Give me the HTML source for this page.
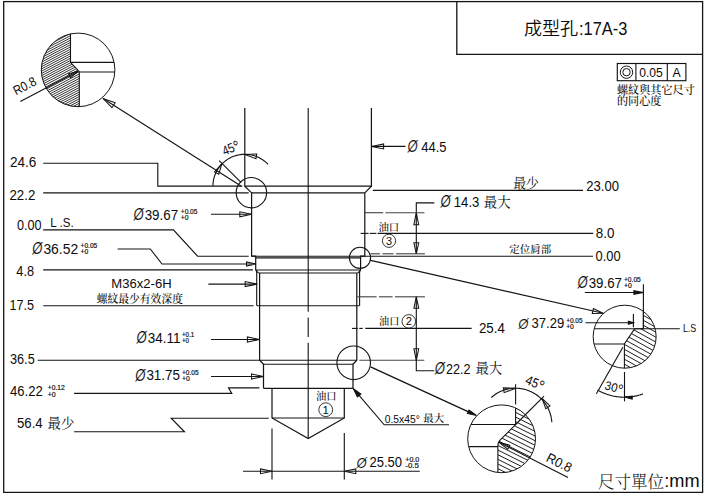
<!DOCTYPE html>
<html lang="zh-Hant"><head><meta charset="utf-8"><title>成型孔:17A-3</title>
<style>html,body{margin:0;padding:0;background:#fff;}body{width:706px;height:493px;overflow:hidden;}svg{display:block;}</style></head><body>
<svg width="706" height="493" viewBox="0 0 706 493" font-family="'Liberation Sans','Noto Sans CJK TC',sans-serif" fill="#0c0c0c" stroke="none">
<rect x="0" y="0" width="706" height="493" fill="#fff"/>
<defs>
<clipPath id="cA"><circle cx="78.1" cy="69.9" r="36.8"/></clipPath>
<clipPath id="cB"><circle cx="624.65" cy="336.7" r="31.5"/></clipPath>
<clipPath id="cC"><circle cx="501.6" cy="438.8" r="33.9"/></clipPath>
<clipPath id="hA"><polygon points="30,20 70.5,20 70.5,62.4 79.3,71.6 79.3,120 30,120"/></clipPath>
<clipPath id="hB"><polygon points="643.4,300 670,300 670,380 624.4,380 624.4,344 634,329.6 635.6,328.8 643.4,328.8"/></clipPath>
<clipPath id="hC"><polygon points="515.6,395 545,395 545,480 497.9,480 497.9,446 498.2,443 499.6,440.6 515.6,424.6"/></clipPath>
</defs>
<g fill="none" stroke="#141414" stroke-width="1.12" stroke-linecap="butt" stroke-linejoin="miter">
<rect x="3.7" y="1.6" width="698.9" height="490.8" stroke-width="1.3"/>
<polyline points="456.8,1.6 456.8,54.3 702.6,54.3" stroke-width="1.3"/>
<rect x="617.3" y="63.5" width="68.6" height="17.2" stroke-width="1.15"/>
<line x1="635.9" y1="63.5" x2="635.9" y2="80.7" stroke-width="1.1"/>
<line x1="667.3" y1="63.5" x2="667.3" y2="80.7" stroke-width="1.1"/>
<circle cx="626.5" cy="72.2" r="6.2" fill="none" stroke-width="1"/>
<circle cx="626.5" cy="72.2" r="3.7" fill="none" stroke-width="1"/>
<polyline points="244.8,108 244.8,186.2 251.6,192.9 251.6,256.2 255.7,256.2 255.7,269.6 256.6,271.6 258.6,272.8" stroke-width="1.22"/>
<line x1="256.7" y1="270.5" x2="256.7" y2="305.8"/>
<polyline points="259.6,273 259.6,360.3 263.5,364.2 263.5,388.3" stroke-width="1.22"/>
<polyline points="371.4,108 371.4,186.2 364.8,192.9 364.8,256.2 360.6,256.2 360.6,269.6 359.7,271.6 357.7,272.8" stroke-width="1.22"/>
<line x1="359.6" y1="270.5" x2="359.6" y2="305.8"/>
<polyline points="356.8,273 356.8,360.3 353,364.2 353,388.3" stroke-width="1.22"/>
<line x1="263.5" y1="388.3" x2="353" y2="388.3" stroke-width="1.22"/>
<polyline points="272,388.3 272,418 308.2,438.6 344.3,418 344.3,388.3" stroke-width="1.22"/>
<line x1="272" y1="418" x2="344.3" y2="418"/>
<line x1="244.8" y1="186.1" x2="371.4" y2="186.1"/>
<line x1="251.6" y1="192.9" x2="364.8" y2="192.9"/>
<line x1="251.6" y1="256.2" x2="364.8" y2="256.2"/>
<line x1="255.7" y1="257.9" x2="360.6" y2="257.9"/>
<line x1="255.7" y1="270" x2="360.6" y2="270"/>
<line x1="258.6" y1="273" x2="357.7" y2="273"/>
<line x1="256.9" y1="305.8" x2="359.6" y2="305.8"/>
<line x1="259.6" y1="360.3" x2="356.8" y2="360.3"/>
<line x1="263.5" y1="364.2" x2="353" y2="364.2"/>
<line x1="308.2" y1="108" x2="308.2" y2="311.8"/>
<line x1="308.2" y1="317.6" x2="308.2" y2="337"/>
<line x1="308.2" y1="342.7" x2="308.2" y2="438.6"/>
<polyline points="43.2,163.2 157.8,163.2 157.8,186.1 242.3,186.1"/>
<line x1="43.2" y1="192.9" x2="248.7" y2="192.9"/>
<polyline points="43.2,229.9 173.4,229.9 197.6,256.2 248.7,256.2"/>
<polyline points="117.6,249 150.3,249 162,264 256,264"/>
<polygon points="256,264 246.5,266.1 246.5,261.9" fill="none" stroke-width="1.05"/>
<line x1="43.2" y1="269.9" x2="252.9" y2="269.9"/>
<line x1="208.4" y1="284.1" x2="257.2" y2="284.1"/>
<polygon points="257.2,284.1 245.2,286.6 245.2,281.6" fill="none" stroke-width="1.05"/>
<line x1="43.2" y1="305.8" x2="253.6" y2="305.8"/>
<line x1="211" y1="339.5" x2="259.4" y2="339.5"/>
<polygon points="259.4,339.5 247.4,342 247.4,337" fill="none" stroke-width="1.05"/>
<line x1="37.7" y1="360.3" x2="259.6" y2="360.3"/>
<line x1="211" y1="376.5" x2="263.5" y2="376.5"/>
<polygon points="263.5,376.5 251.5,379 251.5,374" fill="none" stroke-width="1.05"/>
<polyline points="74.1,393.4 231.8,393.4 228.5,387.9 259.4,387.9"/>
<polyline points="74.1,431.8 184.5,431.8 171.2,418.2 268.7,418.2"/>
<line x1="211" y1="214.3" x2="251.6" y2="214.3"/>
<polygon points="251.6,214.3 239.8,216.8 239.8,211.8" fill="none" stroke-width="1.05"/>
<polyline points="212.9,186.2 212.96,184.3 213.13,182.41 213.41,180.53 213.8,178.67 214.3,176.84 214.92,175.04 215.63,173.28 216.45,171.57 217.37,169.91 218.39,168.3 219.5,166.76 220.71,165.29 221.99,163.9 223.36,162.58 224.81,161.34 226.32,160.2 227.9,159.14 229.54,158.19 231.24,157.33 232.98,156.57 234.76,155.92 236.58,155.38 238.43,154.94 240.31,154.62 242.19,154.41 244.09,154.31 245.99,154.32 247.89,154.45 249.77,154.69 251.64,155.04 253.48,155.5 255.29,156.07 257.07,156.75 258.8,157.53 260.48,158.42 262.1,159.4 263.67,160.48 265.17,161.65 266.59,162.9 267.94,164.24"/>
<line x1="241.2" y1="182.6" x2="219.2" y2="160.7"/>
<polygon points="221.9,163.6 218.76,174.21 214.56,171.88" fill="none" stroke-width="1.05"/>
<polygon points="245,154.4 256.74,153.93 255.95,158.67" fill="none" stroke-width="1.05"/>
<circle cx="251.4" cy="192.7" r="15.2" fill="none"/>
<line x1="241" y1="186" x2="103" y2="98.5"/>
<polygon points="103,98.5 115.16,102.66 111.95,107.73" fill="none" stroke-width="1.05"/>
<line x1="272" y1="428.5" x2="272" y2="479.5"/>
<line x1="344.3" y1="433" x2="344.3" y2="479.5"/>
<line x1="243" y1="471.3" x2="419.8" y2="471.3"/>
<polygon points="272,471.3 260.5,473.7 260.5,468.9" fill="none" stroke-width="1.05"/>
<polygon points="344.3,471.3 355.8,468.9 355.8,473.7" fill="none" stroke-width="1.05"/>
<line x1="371.6" y1="146.4" x2="405.5" y2="146.4"/>
<polygon points="371.6,146.4 383.6,143.9 383.6,148.9" fill="none" stroke-width="1.05"/>
<line x1="372.8" y1="190.4" x2="583" y2="190.4"/>
<polyline points="434.4,202.9 416.3,202.9 416.3,253.8"/>
<polygon points="416.3,212.7 418.7,224.7 413.9,224.7" fill="none" stroke-width="1.05"/>
<polygon points="416.3,253.8 413.9,242.8 418.7,242.8" fill="none" stroke-width="1.05"/>
<line x1="364.9" y1="212.7" x2="383.2" y2="212.7" stroke="#444"/>
<line x1="385.4" y1="212.7" x2="424.4" y2="212.7" stroke="#444"/>
<line x1="370.6" y1="253.8" x2="380" y2="253.8" stroke="#444"/>
<line x1="382.5" y1="253.8" x2="393.5" y2="253.8" stroke="#444"/>
<line x1="396" y1="253.8" x2="424.9" y2="253.8" stroke="#444"/>
<line x1="360.6" y1="233.4" x2="368.6" y2="233.4"/>
<line x1="369.8" y1="233.4" x2="376.4" y2="233.4"/>
<line x1="377.6" y1="233.4" x2="593.2" y2="233.4"/>
<line x1="364.9" y1="256.3" x2="593" y2="256.3"/>
<circle cx="360" cy="257.8" r="10.6" fill="none"/>
<line x1="370.6" y1="260.4" x2="603.1" y2="313.3"/>
<polygon points="603.1,313.3 592.28,313.51 593.44,308.44" fill="none" stroke-width="1.05"/>
<line x1="357.3" y1="296.8" x2="376.5" y2="296.8" stroke="#444"/>
<line x1="379" y1="296.8" x2="392.5" y2="296.8" stroke="#444"/>
<line x1="395" y1="296.8" x2="424.9" y2="296.8" stroke="#444"/>
<line x1="359.3" y1="360.3" x2="424.3" y2="360.3" stroke="#444"/>
<polyline points="416.3,296.8 416.3,370.8 434.3,370.8"/>
<polygon points="416.3,296.8 418.7,308.3 413.9,308.3" fill="none" stroke-width="1.05"/>
<polygon points="416.3,360.3 413.9,348.8 418.7,348.8" fill="none" stroke-width="1.05"/>
<line x1="352" y1="328.4" x2="357.8" y2="328.4"/>
<line x1="359.2" y1="328.4" x2="362.8" y2="328.4"/>
<line x1="365.3" y1="328.4" x2="471.6" y2="328.4"/>
<circle cx="353.7" cy="362.8" r="16.8" fill="none"/>
<line x1="370.6" y1="366.8" x2="474" y2="414.4" stroke-width="1.3"/>
<polygon points="476.4,415.5 467.43,413.47 469.02,410.01" fill="#141414" stroke-width="1.05"/>
<polyline points="353.3,388.6 384.2,424.8 449,424.8"/>
<polygon points="353.3,388.6 360.89,393.95 357.4,396.94" fill="#141414" stroke-width="1.05"/>
<circle cx="389" cy="240.8" r="6.6" fill="none" stroke-width="0.85"/>
<circle cx="408.8" cy="321.4" r="6.8" fill="none" stroke-width="0.85"/>
<circle cx="325.7" cy="409.7" r="6.9" fill="none" stroke-width="0.85"/>
<circle cx="78.1" cy="69.9" r="36.8" fill="none" stroke-width="1"/>
<g clip-path="url(#cA)">
<g clip-path="url(#hA)" stroke-width="0.8" stroke="#000">
<line x1="-3.08" y1="49.43" x2="80.46" y2="5.57"/>
<line x1="-2.15" y1="51.2" x2="81.39" y2="7.34"/>
<line x1="-1.22" y1="52.97" x2="82.32" y2="9.11"/>
<line x1="-0.29" y1="54.74" x2="83.25" y2="10.88"/>
<line x1="0.64" y1="56.51" x2="84.18" y2="12.65"/>
<line x1="1.57" y1="58.29" x2="85.11" y2="14.42"/>
<line x1="2.5" y1="60.06" x2="86.04" y2="16.2"/>
<line x1="3.42" y1="61.83" x2="86.97" y2="17.97"/>
<line x1="4.35" y1="63.6" x2="87.9" y2="19.74"/>
<line x1="5.28" y1="65.37" x2="88.83" y2="21.51"/>
<line x1="6.21" y1="67.14" x2="89.76" y2="23.28"/>
<line x1="7.14" y1="68.91" x2="90.68" y2="25.05"/>
<line x1="8.07" y1="70.68" x2="91.61" y2="26.82"/>
<line x1="9" y1="72.45" x2="92.54" y2="28.59"/>
<line x1="9.93" y1="74.22" x2="93.47" y2="30.36"/>
<line x1="10.86" y1="75.99" x2="94.4" y2="32.13"/>
<line x1="11.79" y1="77.76" x2="95.33" y2="33.9"/>
<line x1="12.72" y1="79.53" x2="96.26" y2="35.67"/>
<line x1="13.65" y1="81.31" x2="97.19" y2="37.45"/>
<line x1="14.58" y1="83.08" x2="98.12" y2="39.22"/>
<line x1="15.51" y1="84.85" x2="99.05" y2="40.99"/>
<line x1="16.44" y1="86.62" x2="99.98" y2="42.76"/>
<line x1="17.37" y1="88.39" x2="100.91" y2="44.53"/>
<line x1="18.3" y1="90.16" x2="101.84" y2="46.3"/>
<line x1="19.23" y1="91.93" x2="102.77" y2="48.07"/>
<line x1="20.16" y1="93.7" x2="103.7" y2="49.84"/>
<line x1="21.09" y1="95.47" x2="104.63" y2="51.61"/>
<line x1="22.02" y1="97.24" x2="105.56" y2="53.38"/>
<line x1="22.95" y1="99.01" x2="106.49" y2="55.15"/>
<line x1="23.88" y1="100.78" x2="107.42" y2="56.92"/>
<line x1="24.81" y1="102.55" x2="108.35" y2="58.69"/>
<line x1="25.74" y1="104.33" x2="109.28" y2="60.47"/>
<line x1="26.67" y1="106.1" x2="110.21" y2="62.24"/>
<line x1="27.6" y1="107.87" x2="111.14" y2="64.01"/>
<line x1="28.53" y1="109.64" x2="112.07" y2="65.78"/>
<line x1="29.46" y1="111.41" x2="113" y2="67.55"/>
<line x1="30.39" y1="113.18" x2="113.93" y2="69.32"/>
<line x1="31.32" y1="114.95" x2="114.86" y2="71.09"/>
<line x1="32.24" y1="116.72" x2="115.79" y2="72.86"/>
<line x1="33.17" y1="118.49" x2="116.72" y2="74.63"/>
<line x1="34.1" y1="120.26" x2="117.65" y2="76.4"/>
<line x1="35.03" y1="122.03" x2="118.58" y2="78.17"/>
<line x1="35.96" y1="123.8" x2="119.5" y2="79.94"/>
<line x1="36.89" y1="125.58" x2="120.43" y2="81.71"/>
<line x1="37.82" y1="127.35" x2="121.36" y2="83.49"/>
<line x1="38.75" y1="129.12" x2="122.29" y2="85.26"/>
<line x1="39.68" y1="130.89" x2="123.22" y2="87.03"/>
<line x1="40.61" y1="132.66" x2="124.15" y2="88.8"/>
</g>
<polyline points="70.5,30 70.5,62.4 79.3,71.6 79.3,110" stroke-width="1.1"/>
<line x1="70.5" y1="62.4" x2="116" y2="62.4"/>
<line x1="79.3" y1="72" x2="116" y2="72"/>
</g>
<line x1="20.3" y1="101.6" x2="77.9" y2="71.3"/>
<polygon points="77.9,71.3 70.51,77.66 68.47,73.77" fill="none" stroke-width="1.05"/>
<circle cx="624.65" cy="336.7" r="31.5" fill="none" stroke-width="1"/>
<g clip-path="url(#cB)">
<g clip-path="url(#hB)" stroke-width="0.95">
<line x1="623.4" y1="279.65" x2="698.11" y2="321.06"/>
<line x1="621.31" y1="283.43" x2="696.01" y2="324.84"/>
<line x1="619.22" y1="287.21" x2="693.92" y2="328.62"/>
<line x1="617.12" y1="290.99" x2="691.82" y2="332.4"/>
<line x1="615.03" y1="294.77" x2="689.73" y2="336.18"/>
<line x1="612.93" y1="298.55" x2="687.64" y2="339.96"/>
<line x1="610.84" y1="302.32" x2="685.54" y2="343.73"/>
<line x1="608.74" y1="306.1" x2="683.45" y2="347.51"/>
<line x1="606.65" y1="309.88" x2="681.35" y2="351.29"/>
<line x1="604.55" y1="313.66" x2="679.26" y2="355.07"/>
<line x1="602.46" y1="317.44" x2="677.16" y2="358.85"/>
<line x1="600.37" y1="321.22" x2="675.07" y2="362.63"/>
<line x1="598.27" y1="325" x2="672.98" y2="366.4"/>
<line x1="596.18" y1="328.77" x2="670.88" y2="370.18"/>
<line x1="594.08" y1="332.55" x2="668.79" y2="373.96"/>
<line x1="591.99" y1="336.33" x2="666.69" y2="377.74"/>
<line x1="589.89" y1="340.11" x2="664.6" y2="381.52"/>
<line x1="587.8" y1="343.89" x2="662.5" y2="385.3"/>
<line x1="585.71" y1="347.67" x2="660.41" y2="389.07"/>
<line x1="583.61" y1="351.44" x2="658.31" y2="392.85"/>
</g>
<polyline points="643.4,300 643.4,328.8 635.6,328.8 634,329.6 624.4,344 624.4,372" stroke-width="1.1"/>
<line x1="590" y1="328.8" x2="643.4" y2="328.8"/>
<line x1="590" y1="344" x2="624.4" y2="344"/>
</g>
<line x1="643.4" y1="284.2" x2="643.4" y2="328.8"/>
<line x1="584.8" y1="292.5" x2="643.4" y2="292.5"/>
<polygon points="643.4,292.5 633.9,294.3 633.9,290.7" fill="#141414" stroke-width="1.05"/>
<line x1="585.5" y1="322.8" x2="633.4" y2="322.8"/>
<polygon points="633.4,322.8 628.4,324.3 628.4,321.3" fill="#141414" stroke-width="1.05"/>
<line x1="633.4" y1="314" x2="633.4" y2="327.2"/>
<line x1="643.4" y1="328.8" x2="679.8" y2="328.8"/>
<line x1="622.9" y1="347.3" x2="596.4" y2="393.8"/>
<line x1="624.5" y1="372" x2="624.5" y2="401.4"/>
<polyline points="597.6,390.02 598.63,390.6 599.66,391.15 600.71,391.68 601.77,392.19 602.84,392.67 603.93,393.14 605.02,393.57 606.12,393.99 607.23,394.38 608.35,394.74 609.48,395.08 610.61,395.4 611.75,395.69 612.89,395.95 614.05,396.19 615.2,396.41 616.36,396.59 617.53,396.76 618.7,396.9 619.87,397.01 621.04,397.09 622.22,397.16 623.39,397.19 624.57,397.2 625.74,397.18 626.92,397.14 628.09,397.07 629.27,396.98 630.44,396.86 631.6,396.71 632.77,396.54 633.93,396.35 635.08,396.12 636.23,395.88 637.38,395.61 638.52,395.31 639.65,394.99 640.77,394.64 641.89,394.27 643,393.87"/>
<polygon points="624.5,397.1 632.39,396.15 632.18,399.14" fill="#141414" stroke-width="1.05"/>
<circle cx="501.6" cy="438.8" r="33.9" fill="none" stroke-width="1"/>
<g clip-path="url(#cC)">
<g clip-path="url(#hC)" stroke-width="0.95">
<line x1="499.02" y1="371.61" x2="581.64" y2="412.8"/>
<line x1="497.16" y1="375.33" x2="579.79" y2="416.53"/>
<line x1="495.31" y1="379.05" x2="577.93" y2="420.25"/>
<line x1="493.45" y1="382.78" x2="576.08" y2="423.97"/>
<line x1="491.6" y1="386.5" x2="574.22" y2="427.7"/>
<line x1="489.74" y1="390.22" x2="572.36" y2="431.42"/>
<line x1="487.88" y1="393.95" x2="570.51" y2="435.14"/>
<line x1="486.03" y1="397.67" x2="568.65" y2="438.86"/>
<line x1="484.17" y1="401.39" x2="566.79" y2="442.59"/>
<line x1="482.31" y1="405.12" x2="564.94" y2="446.31"/>
<line x1="480.46" y1="408.84" x2="563.08" y2="450.03"/>
<line x1="478.6" y1="412.56" x2="561.23" y2="453.76"/>
<line x1="476.75" y1="416.28" x2="559.37" y2="457.48"/>
<line x1="474.89" y1="420.01" x2="557.51" y2="461.2"/>
<line x1="473.03" y1="423.73" x2="555.66" y2="464.92"/>
<line x1="471.18" y1="427.45" x2="553.8" y2="468.65"/>
<line x1="469.32" y1="431.18" x2="551.94" y2="472.37"/>
<line x1="467.47" y1="434.9" x2="550.09" y2="476.09"/>
<line x1="465.61" y1="438.62" x2="548.23" y2="479.82"/>
<line x1="463.75" y1="442.34" x2="546.38" y2="483.54"/>
<line x1="461.9" y1="446.07" x2="544.52" y2="487.26"/>
<line x1="460.04" y1="449.79" x2="542.66" y2="490.98"/>
<line x1="458.18" y1="453.51" x2="540.81" y2="494.71"/>
<line x1="456.33" y1="457.24" x2="538.95" y2="498.43"/>
</g>
<polyline points="515.6,400 515.6,424.6 499.6,440.6 498.2,443 497.9,446 497.9,476" stroke-width="1.1"/>
<line x1="465" y1="424.5" x2="515.6" y2="424.5"/>
<line x1="465" y1="446.6" x2="497.9" y2="446.6"/>
</g>
<line x1="515.6" y1="384.3" x2="515.6" y2="404.4"/>
<line x1="515.6" y1="424.5" x2="544" y2="396.2"/>
<polyline points="491.31,397.52 492.86,396.21 494.48,394.98 496.17,393.84 497.92,392.8 499.72,391.86 501.58,391.02 503.48,390.28 505.41,389.66 507.38,389.14 509.37,388.74 511.39,388.45 513.42,388.27 515.45,388.2 517.48,388.25 519.51,388.41 521.53,388.69 523.53,389.08 525.5,389.58 527.44,390.19 529.34,390.9 531.21,391.73 533.02,392.65 534.78,393.68 536.47,394.8 538.1,396.02 539.66,397.32 541.15,398.71 542.55,400.19 543.88,401.74 545.11,403.36 546.24,405.04 547.29,406.79 548.23,408.59 549.07,410.45 549.8,412.35 550.43,414.28 550.95,416.25 551.36,418.24 551.65,420.26 551.83,422.28"/>
<polygon points="515.6,388.3 504.16,392.65 503.37,387.91" fill="none" stroke-width="1.05"/>
<polygon points="542.1,398.4 549.97,405.93 545.78,408.65" fill="none" stroke-width="1.05"/>
<line x1="499" y1="442.3" x2="568" y2="477.4"/>
<polygon points="499,442.3 509.8,445.33 507.8,449.25" fill="none" stroke-width="1.05"/>
</g>
<text x="523.9" y="35.2" font-size="18" font-family="'Liberation Sans','Noto Sans CJK TC','Noto Sans CJK SC',sans-serif" textLength="54.2" lengthAdjust="spacingAndGlyphs" font-weight="350" stroke="none">成型孔</text>
<text x="579" y="34.8" font-size="18" textLength="48.4" lengthAdjust="spacingAndGlyphs">:17A-3</text>
<text x="639.2" y="76.7" font-size="12.3" textLength="23.6" lengthAdjust="spacingAndGlyphs">0.05</text>
<text x="672.5" y="76.7" font-size="12.3" textLength="8.2" lengthAdjust="spacingAndGlyphs">A</text>
<text x="617" y="94" font-size="11.1" font-family="'Liberation Serif','Noto Serif CJK SC','Noto Serif CJK TC',serif" textLength="77.8" lengthAdjust="spacingAndGlyphs" font-weight="500">螺紋與其它尺寸</text>
<text x="617" y="104.6" font-size="11.1" font-family="'Liberation Serif','Noto Serif CJK SC','Noto Serif CJK TC',serif" textLength="44.4" lengthAdjust="spacingAndGlyphs" font-weight="500">的同心度</text>
<text x="10" y="167" font-size="14" textLength="26.4" lengthAdjust="spacingAndGlyphs">24.6</text>
<text x="9.5" y="199.6" font-size="14" textLength="25.8" lengthAdjust="spacingAndGlyphs">22.2</text>
<text x="17" y="229.8" font-size="14" textLength="24.6" lengthAdjust="spacingAndGlyphs">0.00</text>
<text x="50.3" y="226.6" font-size="12.8" textLength="23.3" lengthAdjust="spacingAndGlyphs">L .S.</text>
<text x="32.3" y="254.2" font-size="15.96" font-style="italic" textLength="10.2" lengthAdjust="spacingAndGlyphs" stroke="#fff" stroke-width="0.12">Ø</text>
<text x="43.4" y="253.5" font-size="14" textLength="34.8" lengthAdjust="spacingAndGlyphs">36.52</text>
<text x="80.6" y="247.55" font-size="6.61" textLength="16.6" lengthAdjust="spacingAndGlyphs" stroke="#0c0c0c" stroke-width="0.18">+0.05</text>
<text x="80.6" y="253.75" font-size="6.61" textLength="7.7" lengthAdjust="spacingAndGlyphs" stroke="#0c0c0c" stroke-width="0.18">+0</text>
<text x="16.3" y="275.6" font-size="14" textLength="17.7" lengthAdjust="spacingAndGlyphs">4.8</text>
<text x="111.3" y="288" font-size="12" textLength="60.3" lengthAdjust="spacingAndGlyphs">M36x2-6H</text>
<text x="96.7" y="302.6" font-size="10.8" font-family="'Liberation Serif','Noto Serif CJK SC','Noto Serif CJK TC',serif" textLength="86.3" lengthAdjust="spacingAndGlyphs" font-weight="500">螺紋最少有效深度</text>
<text x="9.5" y="310" font-size="14" textLength="24.5" lengthAdjust="spacingAndGlyphs">17.5</text>
<text x="136.6" y="343.4" font-size="15.96" font-style="italic" textLength="10.2" lengthAdjust="spacingAndGlyphs" stroke="#fff" stroke-width="0.12">Ø</text>
<text x="147.7" y="342.7" font-size="14" textLength="32.8" lengthAdjust="spacingAndGlyphs">34.11</text>
<text x="182" y="337.25" font-size="6.61" textLength="12.2" lengthAdjust="spacingAndGlyphs" stroke="#0c0c0c" stroke-width="0.18">+0.1</text>
<text x="182" y="343.45" font-size="6.61" textLength="7.08" lengthAdjust="spacingAndGlyphs" stroke="#0c0c0c" stroke-width="0.18">+0</text>
<text x="10" y="364" font-size="14" textLength="24.7" lengthAdjust="spacingAndGlyphs">36.5</text>
<text x="135.3" y="381" font-size="15.96" font-style="italic" textLength="10.2" lengthAdjust="spacingAndGlyphs" stroke="#fff" stroke-width="0.12">Ø</text>
<text x="146.4" y="380.3" font-size="14" textLength="33.6" lengthAdjust="spacingAndGlyphs">31.75</text>
<text x="182" y="374.75" font-size="6.61" textLength="16.6" lengthAdjust="spacingAndGlyphs" stroke="#0c0c0c" stroke-width="0.18">+0.05</text>
<text x="182" y="381.05" font-size="6.61" textLength="7.7" lengthAdjust="spacingAndGlyphs" stroke="#0c0c0c" stroke-width="0.18">+0</text>
<text x="10" y="396.1" font-size="14" textLength="32.7" lengthAdjust="spacingAndGlyphs">46.22</text>
<text x="47.7" y="390.45" font-size="6.38" textLength="17.1" lengthAdjust="spacingAndGlyphs" stroke="#0c0c0c" stroke-width="0.18">+0.12</text>
<text x="47.7" y="396.65" font-size="6.38" textLength="7.93" lengthAdjust="spacingAndGlyphs" stroke="#0c0c0c" stroke-width="0.18">+0</text>
<text x="17" y="428" font-size="14" textLength="25.7" lengthAdjust="spacingAndGlyphs">56.4</text>
<text x="47.5" y="427.8" font-size="13.5" font-family="'Liberation Serif','Noto Serif CJK SC','Noto Serif CJK TC',serif" textLength="26.8" lengthAdjust="spacingAndGlyphs" font-weight="400">最少</text>
<text x="133.6" y="220.4" font-size="15.96" font-style="italic" textLength="10.2" lengthAdjust="spacingAndGlyphs" stroke="#fff" stroke-width="0.12">Ø</text>
<text x="144.7" y="219.7" font-size="14" textLength="33.4" lengthAdjust="spacingAndGlyphs">39.67</text>
<text x="180.8" y="213.75" font-size="6.61" textLength="16.6" lengthAdjust="spacingAndGlyphs" stroke="#0c0c0c" stroke-width="0.18">+0.05</text>
<text x="180.8" y="219.95" font-size="6.61" textLength="7.7" lengthAdjust="spacingAndGlyphs" stroke="#0c0c0c" stroke-width="0.18">+0</text>
<text transform="translate(230.9 147.9) rotate(-22.5)" x="0" y="4.73" font-size="13.2" text-anchor="middle" textLength="18" lengthAdjust="spacingAndGlyphs">45<tspan font-size="1.3em" dy="0.13em">°</tspan></text>
<text x="15.9" y="95.4" font-size="13.2" textLength="24" lengthAdjust="spacingAndGlyphs" transform="rotate(-27 15.9 95.4)">R0.8</text>
<text x="407.4" y="152.1" font-size="15.73" font-style="italic" textLength="10.2" lengthAdjust="spacingAndGlyphs" stroke="#fff" stroke-width="0.12">Ø</text>
<text x="421.3" y="152.1" font-size="13.8" textLength="25.2" lengthAdjust="spacingAndGlyphs">44.5</text>
<text x="513.2" y="188.4" font-size="13.3" font-family="'Liberation Serif','Noto Serif CJK SC','Noto Serif CJK TC',serif" textLength="25.8" lengthAdjust="spacingAndGlyphs" font-weight="400">最少</text>
<text x="586.3" y="190.8" font-size="14" textLength="32.7" lengthAdjust="spacingAndGlyphs">23.00</text>
<text x="440.5" y="206.7" font-size="15.73" font-style="italic" textLength="10.2" lengthAdjust="spacingAndGlyphs" stroke="#fff" stroke-width="0.12">Ø</text>
<text x="453.8" y="206.8" font-size="13.8" textLength="25.6" lengthAdjust="spacingAndGlyphs">14.3</text>
<text x="483.8" y="207.2" font-size="13.7" font-family="'Liberation Serif','Noto Serif CJK SC','Noto Serif CJK TC',serif" textLength="26.8" lengthAdjust="spacingAndGlyphs" font-weight="400">最大</text>
<text x="378.4" y="230.9" font-size="10.4" font-family="'Liberation Serif','Noto Serif CJK SC','Noto Serif CJK TC',serif" textLength="20.8" lengthAdjust="spacingAndGlyphs" font-weight="500">油口</text>
<text x="389" y="244.7" font-size="10.9" text-anchor="middle">3</text>
<text x="595.8" y="238.1" font-size="14" textLength="18.6" lengthAdjust="spacingAndGlyphs">8.0</text>
<text x="509.2" y="252.7" font-size="10.7" font-family="'Liberation Serif','Noto Serif CJK SC','Noto Serif CJK TC',serif" textLength="42" lengthAdjust="spacingAndGlyphs" font-weight="500">定位肩部</text>
<text x="595.6" y="260.6" font-size="14" textLength="25.1" lengthAdjust="spacingAndGlyphs">0.00</text>
<text x="379.1" y="325.2" font-size="10.2" font-family="'Liberation Serif','Noto Serif CJK SC','Noto Serif CJK TC',serif" textLength="20.2" lengthAdjust="spacingAndGlyphs" font-weight="500">油口</text>
<text x="408.8" y="325.4" font-size="11.2" text-anchor="middle">2</text>
<text x="478.9" y="332.7" font-size="14" textLength="25.9" lengthAdjust="spacingAndGlyphs">25.4</text>
<text x="434.8" y="374.2" font-size="15.96" font-style="italic" textLength="10.2" lengthAdjust="spacingAndGlyphs" stroke="#fff" stroke-width="0.12">Ø</text>
<text x="445.9" y="373.5" font-size="14" textLength="24.6" lengthAdjust="spacingAndGlyphs">22.2</text>
<text x="475.4" y="373.4" font-size="13.7" font-family="'Liberation Serif','Noto Serif CJK SC','Noto Serif CJK TC',serif" textLength="26.8" lengthAdjust="spacingAndGlyphs" font-weight="400">最大</text>
<text x="316" y="400.1" font-size="10.3" font-family="'Liberation Serif','Noto Serif CJK SC','Noto Serif CJK TC',serif" textLength="20.5" lengthAdjust="spacingAndGlyphs" font-weight="500">油口</text>
<text x="325.7" y="413.8" font-size="11.4" text-anchor="middle">1</text>
<text x="384.7" y="422.5" font-size="10.4" textLength="35.1" lengthAdjust="spacingAndGlyphs">0.5x45°</text>
<text x="423.2" y="422.4" font-size="10.6" font-family="'Liberation Serif','Noto Serif CJK SC','Noto Serif CJK TC',serif" textLength="21" lengthAdjust="spacingAndGlyphs" font-weight="500">最大</text>
<text x="356.4" y="467.7" font-size="15.39" font-style="italic" textLength="10.2" lengthAdjust="spacingAndGlyphs" stroke="#fff" stroke-width="0.12">Ø</text>
<text x="369.4" y="467" font-size="14" textLength="32.6" lengthAdjust="spacingAndGlyphs">25.50</text>
<text x="405.3" y="462.45" font-size="7.19" textLength="14" lengthAdjust="spacingAndGlyphs" stroke="#0c0c0c" stroke-width="0.18">+0.0</text>
<text x="405.3" y="468.05" font-size="7.19" textLength="13.6" lengthAdjust="spacingAndGlyphs" stroke="#0c0c0c" stroke-width="0.18">-0.5</text>
<text x="577.6" y="288.2" font-size="15.96" font-style="italic" textLength="10.2" lengthAdjust="spacingAndGlyphs" stroke="#fff" stroke-width="0.12">Ø</text>
<text x="588.7" y="287.5" font-size="14" textLength="33.3" lengthAdjust="spacingAndGlyphs">39.67</text>
<text x="624" y="281.95" font-size="6.61" textLength="16.8" lengthAdjust="spacingAndGlyphs" stroke="#0c0c0c" stroke-width="0.18">+0.05</text>
<text x="624" y="287.75" font-size="6.61" textLength="7.8" lengthAdjust="spacingAndGlyphs" stroke="#0c0c0c" stroke-width="0.18">+0</text>
<text x="518.2" y="329.1" font-size="15.39" font-style="italic" textLength="10.2" lengthAdjust="spacingAndGlyphs" stroke="#fff" stroke-width="0.12">Ø</text>
<text x="531.5" y="328.4" font-size="14" textLength="32.7" lengthAdjust="spacingAndGlyphs">37.29</text>
<text x="566.2" y="322.85" font-size="6.61" textLength="16.4" lengthAdjust="spacingAndGlyphs" stroke="#0c0c0c" stroke-width="0.18">+0.05</text>
<text x="566.2" y="328.65" font-size="6.61" textLength="7.61" lengthAdjust="spacingAndGlyphs" stroke="#0c0c0c" stroke-width="0.18">+0</text>
<text x="682.9" y="331.8" font-size="10.2" textLength="13.4" lengthAdjust="spacingAndGlyphs">L.S</text>
<text transform="translate(614.2 387.3) rotate(15)" x="0" y="4.37" font-size="12.2" text-anchor="middle" textLength="18.6" lengthAdjust="spacingAndGlyphs">30<tspan font-size="1.3em" dy="0.13em">°</tspan></text>
<text transform="translate(535.2 382.8) rotate(22.5)" x="0" y="4.8" font-size="13.4" text-anchor="middle" textLength="19" lengthAdjust="spacingAndGlyphs">45<tspan font-size="1.3em" dy="0.13em">°</tspan></text>
<text x="545.2" y="460.8" font-size="13.4" textLength="26.8" lengthAdjust="spacingAndGlyphs" transform="rotate(26.5 545.2 460.8)">R0.8</text>
<text x="598" y="488" font-size="16.5" font-family="'Liberation Serif','Noto Serif CJK SC','Noto Serif CJK TC',serif" textLength="66" lengthAdjust="spacingAndGlyphs" font-weight="300">尺寸單位</text>
<text x="664.2" y="486.6" font-size="17.5" textLength="35.4" lengthAdjust="spacingAndGlyphs">:mm</text>
</svg></body></html>
